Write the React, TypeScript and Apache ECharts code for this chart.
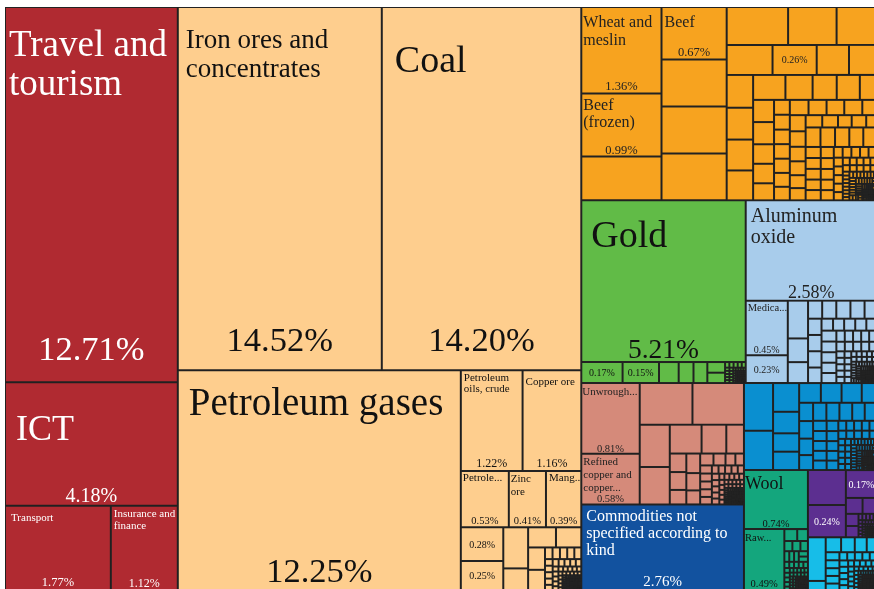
import React, { useEffect, useRef } from 'react';
import * as echarts from 'echarts';

// A spec is: number (unlabelled cell), {n, v} (cell with name / share label),
// {t} (a tail of many small cells sharing the value t), or an array (a sub-group).
type Spec = number | { n?: string; v: number } | { t: number } | Spec[];

// ---------------- DATA (shares of total exports, %) ----------------
const servicesCells: Spec[] = [
  { n: 'Travel and tourism', v: 12.71 },
  { n: 'ICT', v: 4.18 },
  { n: 'Transport', v: 1.77 },
  { n: 'Insurance and finance', v: 1.12 },
];

const mineralsCells: Spec[] = [
  [{ n: 'Iron ores and concentrates', v: 14.52 }, { n: 'Coal', v: 14.2 }],
  { n: 'Petroleum gases', v: 12.25 },
  [
    [{ n: 'Petroleum oils, crude', v: 1.22 }, { n: 'Copper ore', v: 1.16 }],
    [{ n: 'Refined petroleum', v: 0.53 }, { n: 'Zinc ore', v: 0.41 }, { n: 'Manganese ore', v: 0.39 }],
  ],
  [{ v: 0.28 }, { v: 0.25 }],
  [0.2, 0.11],
  [0.11, 0.1],
  [0.074, 0.07],
  { t: 0.31 },
];

const foodCells: Spec[] = [
  [{ n: 'Wheat and meslin', v: 1.36 }, { n: 'Beef (frozen)', v: 0.99 }, 0.69],
  [{ n: 'Beef', v: 0.67 }, 0.6, 0.6, 0.6],
  [0.456, 0.36, 0.3],
  [0.27, { v: 0.26 }, 0.19, 0.165],
  [0.17, 0.165, 0.16, 0.155],
  [0.158, 0.133, 0.118, 0.113, 0.084],
  [0.091, 0.091, 0.08, 0.08, 0.07],
  [0.046, 0.046, 0.045, 0.045, 0.044, 0.043, 0.042],
  [0.056, 0.054, 0.053, 0.054, 0.044],
  [0.05, 0.048, 0.045, 0.043, 0.04, 0.038],
  [0.04, 0.038, 0.033, 0.035, 0.026],
  { t: 1.02 },
];

const goldCells: Spec[] = [
  { n: 'Gold', v: 5.21 },
  [{ v: 0.17 }, { v: 0.15 }, 0.081, 0.061, 0.057, [0.037, 0.036], { t: 0.085 }],
];

const chemCells: Spec[] = [
  { n: 'Aluminum oxide', v: 2.58 },
  [{ n: 'Medicaments', v: 0.45 }, { v: 0.23 }],
  [0.15, 0.094, 0.083],
  [0.05, 0.05, 0.05, 0.05, 0.044],
  [0.043, 0.043, 0.043, 0.041],
  [0.027, 0.026, 0.026, 0.026, 0.025],
  { t: 0.57 },
];

const metalsCells: Spec[] = [
  [{ n: 'Unwrought aluminum', v: 0.81 }, { n: 'Refined copper and copper alloys', v: 0.58 }],
  [0.43, 0.42],
  [0.25, 0.22],
  [0.18, 0.14, 0.1],
  [0.06, 0.058, 0.047],
  [0.053, 0.047, 0.038],
  [0.031, 0.028, 0.023, 0.02],
  { t: 0.335 },
];

const commodityCells: Spec[] = [{ n: 'Commodities not specified according to kind', v: 2.76 }];

const machineryCells: Spec[] = [
  [0.272, 0.224],
  [0.147, 0.11, 0.094, 0.094],
  [0.084, 0.08, 0.078, 0.059],
  [0.05, 0.048, 0.045, 0.041],
  { t: 0.843 },
];

const textileCells: Spec[] = [
  { n: 'Wool', v: 0.74 },
  { n: 'Raw cotton', v: 0.49 },
  [0.03, 0.025],
  [0.016, 0.016, 0.015],
  { t: 0.184 },
];

const vehicleCells: Spec[] = [
  [0.26, { v: 0.24 }],
  { v: 0.17 },
  [0.052, 0.045],
  [0.03, 0.028],
  { t: 0.085 },
];

const instrumentCells: Spec[] = [
  [0.152, 0.035],
  [0.045, 0.04, 0.035, 0.03],
  { t: 0.39 },
];

// relative sizes of the many tiny products that fill each category's corner
const tailPattern: number[][] = [
  [52, 51, 50, 49, 48],
  [30, 29.5, 29, 28.5, 28],
  [26, 25.5, 25, 24.5, 24],
  [17, 16.8, 16.6, 16.4, 16.2],
  [14.2, 14, 13.8, 13.6, 13.4],
  [9.4, 9.3, 9.2, 9.1, 9],
  [8.2, 8.1, 8, 7.9, 7.8],
  [4.6, 4.5, 4.4, 4.3, 4.2, 4.1, 4, 3.9],
  [4.2, 4.1, 4, 3.9, 3.8, 3.7, 3.6, 3.5],
  [3.6, 3.5, 3.4, 3.3, 3.2, 3.1, 3, 2.9],
  [3.2, 3.1, 3, 2.9, 2.8, 2.7, 2.6, 2.5],
  [2.7, 2.6, 2.5, 2.4, 2.3, 2.2, 2.1, 2],
  [2.2, 2.1, 2, 1.9, 1.8, 1.7, 1.6, 1.5],
  [1.8, 1.7, 1.6, 1.5, 1.4, 1.3, 1.2, 1.1],
  [1.4, 1.3, 1.2, 1.1, 1, 0.9, 0.8, 0.7],
  [1, 0.9, 0.8, 0.7, 0.6, 0.6, 0.5, 0.5],
  [0.6, 0.5, 0.5, 0.4, 0.4, 0.3, 0.3, 0.3],
];

// ---------------- STYLES ----------------
type Cat = { key: string; color: string; text: string; cells: Spec[] };
const services: Cat = { key: 'Services', color: '#B02A31', text: '#ffffff', cells: servicesCells };
const minerals: Cat = { key: 'Mineral Products', color: '#FECE8E', text: '#111111', cells: mineralsCells };
const food: Cat = { key: 'Animal and Vegetable Products', color: '#F7A31F', text: '#222222', cells: foodCells };
const gold: Cat = { key: 'Precious Metals', color: '#61BB47', text: '#111111', cells: goldCells };
const chem: Cat = { key: 'Chemical Products', color: '#A8CCEB', text: '#222222', cells: chemCells };
const metals: Cat = { key: 'Metals', color: '#D58A7A', text: '#222222', cells: metalsCells };
const commodities: Cat = { key: 'Miscellaneous', color: '#12529F', text: '#ffffff', cells: commodityCells };
const machinery: Cat = { key: 'Machines', color: '#0A8FD0', text: '#ffffff', cells: machineryCells };
const textiles: Cat = { key: 'Textiles', color: '#14A67D', text: '#111111', cells: textileCells };
const vehicles: Cat = { key: 'Transportation', color: '#5C2F90', text: '#ffffff', cells: vehicleCells };
const instruments: Cat = { key: 'Instruments', color: '#17BDE8', text: '#111111', cells: instrumentCells };

const nameStyle: Record<string, { text: string; size: number; lh: number; pt: number; pl: number }> = {
  'Travel and tourism': { text: 'Travel and\ntourism', size: 37, lh: 39, pt: 16, pl: 3 },
  ICT: { text: 'ICT', size: 36, lh: 36, pt: 27, pl: 10 },
  Transport: { text: 'Transport', size: 11, lh: 12, pt: 4, pl: 5 },
  'Insurance and finance': { text: 'Insurance and\nfinance', size: 11, lh: 12, pt: 0, pl: 2 },
  'Iron ores and concentrates': { text: 'Iron ores and\nconcentrates', size: 27, lh: 29.5, pt: 16, pl: 7 },
  Coal: { text: 'Coal', size: 38, lh: 38, pt: 32, pl: 12 },
  'Petroleum gases': { text: 'Petroleum gases', size: 39, lh: 39, pt: 11, pl: 10 },
  'Petroleum oils, crude': { text: 'Petroleum\noils, crude', size: 11, lh: 11.5, pt: 0, pl: 2 },
  'Copper ore': { text: 'Copper ore', size: 11, lh: 11, pt: 4, pl: 2 },
  'Refined petroleum': { text: 'Petrole...', size: 11, lh: 11, pt: 0, pl: 1 },
  'Zinc ore': { text: 'Zinc\nore', size: 11, lh: 12.5, pt: 0, pl: 1 },
  'Manganese ore': { text: 'Mang...', size: 11, lh: 11, pt: 0, pl: 2 },
  'Wheat and meslin': { text: 'Wheat and\nmeslin', size: 16, lh: 17.5, pt: 5, pl: 1 },
  Beef: { text: 'Beef', size: 16, lh: 17.5, pt: 5, pl: 2 },
  'Beef (frozen)': { text: 'Beef\n(frozen)', size: 16, lh: 17.5, pt: 1, pl: 1 },
  Gold: { text: 'Gold', size: 38, lh: 38, pt: 14, pl: 9 },
  'Aluminum oxide': { text: 'Aluminum\noxide', size: 20, lh: 21, pt: 3, pl: 4 },
  Medicaments: { text: 'Medica...', size: 10.5, lh: 11, pt: 0, pl: 1 },
  'Unwrought aluminum': { text: 'Unwrough...', size: 11, lh: 11, pt: 1, pl: 0 },
  'Refined copper and copper alloys': { text: 'Refined\ncopper and\ncopper...', size: 11, lh: 13, pt: 0, pl: 1 },
  'Commodities not specified according to kind': {
    text: 'Commodities not\nspecified according to\nkind', size: 16, lh: 17.4, pt: 1, pl: 4,
  },
  Wool: { text: 'Wool', size: 18, lh: 18, pt: 3, pl: 0 },
  'Raw cotton': { text: 'Raw...', size: 10.5, lh: 11, pt: 2, pl: 0 },
};

const pctStyle: Record<string, { size: number; pb: number }> = {
  'Travel and tourism': { size: 34.5, pb: 17.5 },
  ICT: { size: 20, pb: 1 },
  Transport: { size: 12.5, pb: 2.5 },
  'Insurance and finance': { size: 12, pb: 2.5 },
  'Iron ores and concentrates': { size: 34.5, pb: 14 },
  Coal: { size: 34.5, pb: 14 },
  'Petroleum gases': { size: 34.5, pb: 3.5 },
  'Petroleum oils, crude': { size: 12, pb: 2 },
  'Copper ore': { size: 12, pb: 2 },
  'Refined petroleum': { size: 10.5, pb: 2 },
  'Zinc ore': { size: 10.5, pb: 2 },
  'Manganese ore': { size: 10.5, pb: 2 },
  'Wheat and meslin': { size: 12.5, pb: 1.5 },
  Beef: { size: 12.5, pb: 1 },
  'Beef (frozen)': { size: 12.5, pb: 0.5 },
  Gold: { size: 27.5, pb: 0 },
  'Aluminum oxide': { size: 18, pb: 0 },
  Medicaments: { size: 10, pb: 1 },
  'Unwrought aluminum': { size: 10.5, pb: 0.5 },
  'Refined copper and copper alloys': { size: 10.5, pb: 0.5 },
  'Commodities not specified according to kind': { size: 15, pb: 2.5 },
  Wool: { size: 10.5, pb: 0.5 },
  'Raw cotton': { size: 10.5, pb: 2.5 },
};

const FONT = 'Liberation Serif';
const LINE = '#222222';
const CLEAR = 'rgba(0,0,0,0)';

type Mode = 'cells' | 'pct';

function leafStyle(color: string, mode: Mode) {
  return mode === 'cells'
    ? { color, borderWidth: 1, borderColor: LINE }
    : { color: CLEAR, borderWidth: 0, borderColor: CLEAR };
}

function buildNode(spec: Spec, cat: Cat, mode: Mode): any {
  if (typeof spec === 'number') {
    return { name: '', value: spec, itemStyle: leafStyle(cat.color, mode) };
  }
  if (Array.isArray(spec)) {
    return { name: '', children: spec.map((s) => buildNode(s, cat, mode)) };
  }
  if ('t' in spec) {
    if (mode === 'pct') return { name: '', value: spec.t, itemStyle: leafStyle(cat.color, mode) };
    return {
      name: '',
      value: spec.t,
      children: tailPattern.map((row) => ({
        name: '',
        children: row.map((u) => ({ name: '', value: u, itemStyle: leafStyle(cat.color, mode) })),
      })),
    };
  }
  const name = spec.n ?? '';
  const item: any = { name, value: spec.v, itemStyle: leafStyle(cat.color, mode) };
  if (mode === 'cells') {
    const ns = nameStyle[name];
    if (ns) {
      item.label = {
        show: true,
        position: 'insideTopLeft',
        fontSize: ns.size,
        lineHeight: ns.lh,
        padding: [ns.pt, 0, 0, ns.pl],
        color: cat.text,
      };
    }
  } else {
    const ps = pctStyle[name];
    item.label = ps
      ? {
          show: true,
          position: 'insideBottom',
          fontSize: ps.size,
          lineHeight: ps.size,
          padding: [0, 0, ps.pb, 0],
          color: cat.text,
        }
      : { show: true, position: 'inside', fontSize: 10, lineHeight: 10, padding: 0, color: cat.text };
  }
  return item;
}

function catNode(cat: Cat, mode: Mode) {
  return { name: cat.key, children: cat.cells.map((s) => buildNode(s, cat, mode)) };
}

function tree(mode: Mode) {
  const c = (cat: Cat) => catNode(cat, mode);
  return [
    c(services),
    c(minerals),
    {
      name: '',
      children: [
        c(food),
        { name: '', children: [c(gold), c(chem)] },
        {
          name: '',
          children: [
            { name: '', children: [c(metals), c(commodities)] },
            {
              name: '',
              children: [
                c(machinery),
                { name: '', children: [c(textiles), { name: '', children: [c(vehicles), c(instruments)] }] },
              ],
            },
          ],
        },
      ],
    },
  ];
}

export default function App() {
  const ref = useRef<HTMLDivElement>(null);
  useEffect(() => {
    if (!ref.current) return;
    const chart = echarts.init(ref.current, undefined, { renderer: 'svg' });
    const common: any = {
      type: 'treemap',
      left: 5,
      top: 7,
      width: 872,
      height: 584,
      sort: false,
      squareRatio: 0.01,
      roam: false,
      nodeClick: false,
      breadcrumb: { show: false },
      visibleMin: 0,
      upperLabel: { show: false },
      emphasis: { disabled: true },
    };
    chart.setOption({
      animation: false,
      textStyle: { fontFamily: FONT },
      series: [
        {
          ...common,
          itemStyle: { borderWidth: 0, gapWidth: 0, borderColor: LINE },
          label: {
            show: false,
            fontFamily: FONT,
            overflow: 'none',
            distance: 0,
            formatter: (p: any) => (nameStyle[p.name] ? nameStyle[p.name].text : ''),
          },
          data: tree('cells'),
        },
        {
          ...common,
          silent: true,
          itemStyle: { borderWidth: 0, gapWidth: 0, borderColor: CLEAR, color: CLEAR },
          label: {
            show: false,
            fontFamily: FONT,
            overflow: 'none',
            distance: 0,
            formatter: (p: any) => Number(Array.isArray(p.value) ? p.value[0] : p.value).toFixed(2) + '%',
          },
          data: tree('pct'),
        },
      ],
    });
    return () => chart.dispose();
  }, []);
  return <div ref={ref} style={{ position: 'fixed', left: 0, top: 0, width: 874, height: 589 }} />;
}
